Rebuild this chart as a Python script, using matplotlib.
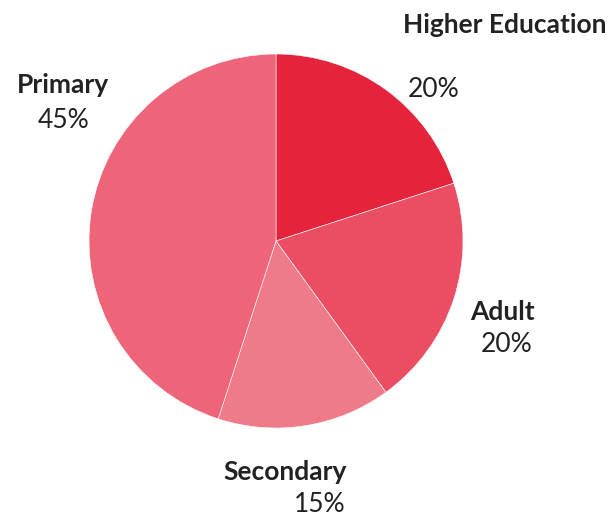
import matplotlib
matplotlib.use("Agg")
import matplotlib.pyplot as plt

# =========================
# DATA
# =========================
categories = ["Higher Education", "Adult", "Secondary", "Primary"]
shares = [20, 20, 15, 45]
colors = ["#E5233D", "#EB4E62", "#EF7A88", "#EE6479"]

# label placement in pixels (name centre x, name baseline y, pct centre x, pct baseline y)
label_pos = {
    "Higher Education": (505, 33, 434, 97),
    "Adult": (502, 320, 507, 352),
    "Secondary": (285, 480, 320, 512),
    "Primary": (63, 93, 64, 128),
}

W, H = 611, 517
fig = plt.figure(figsize=(W / 100, H / 100), dpi=100)

# pie centre and radius in pixels
cx, cy, r = 276, 241, 187
ax = fig.add_axes([(cx - r) / W, (H - cy - r) / H, 2 * r / W, 2 * r / H])
ax.pie(shares, colors=colors, startangle=90, counterclock=False, radius=1,
       wedgeprops=dict(edgecolor="white", linewidth=0.4))
ax.set_xlim(-1, 1)
ax.set_ylim(-1, 1)
ax.set_aspect("equal")
ax.axis("off")

text_color = "#222222"
for name, pct in zip(categories, shares):
    nx, ny, px, py = label_pos[name]
    fig.text(nx / W, 1 - ny / H, name, ha="center", va="baseline",
             fontsize=19, fontweight="bold", family="Lato", color=text_color)
    fig.text(px / W, 1 - py / H, f"{pct}%", ha="center", va="baseline",
             fontsize=19, family="Lato", color=text_color)

fig.savefig("out.png", dpi=100)
